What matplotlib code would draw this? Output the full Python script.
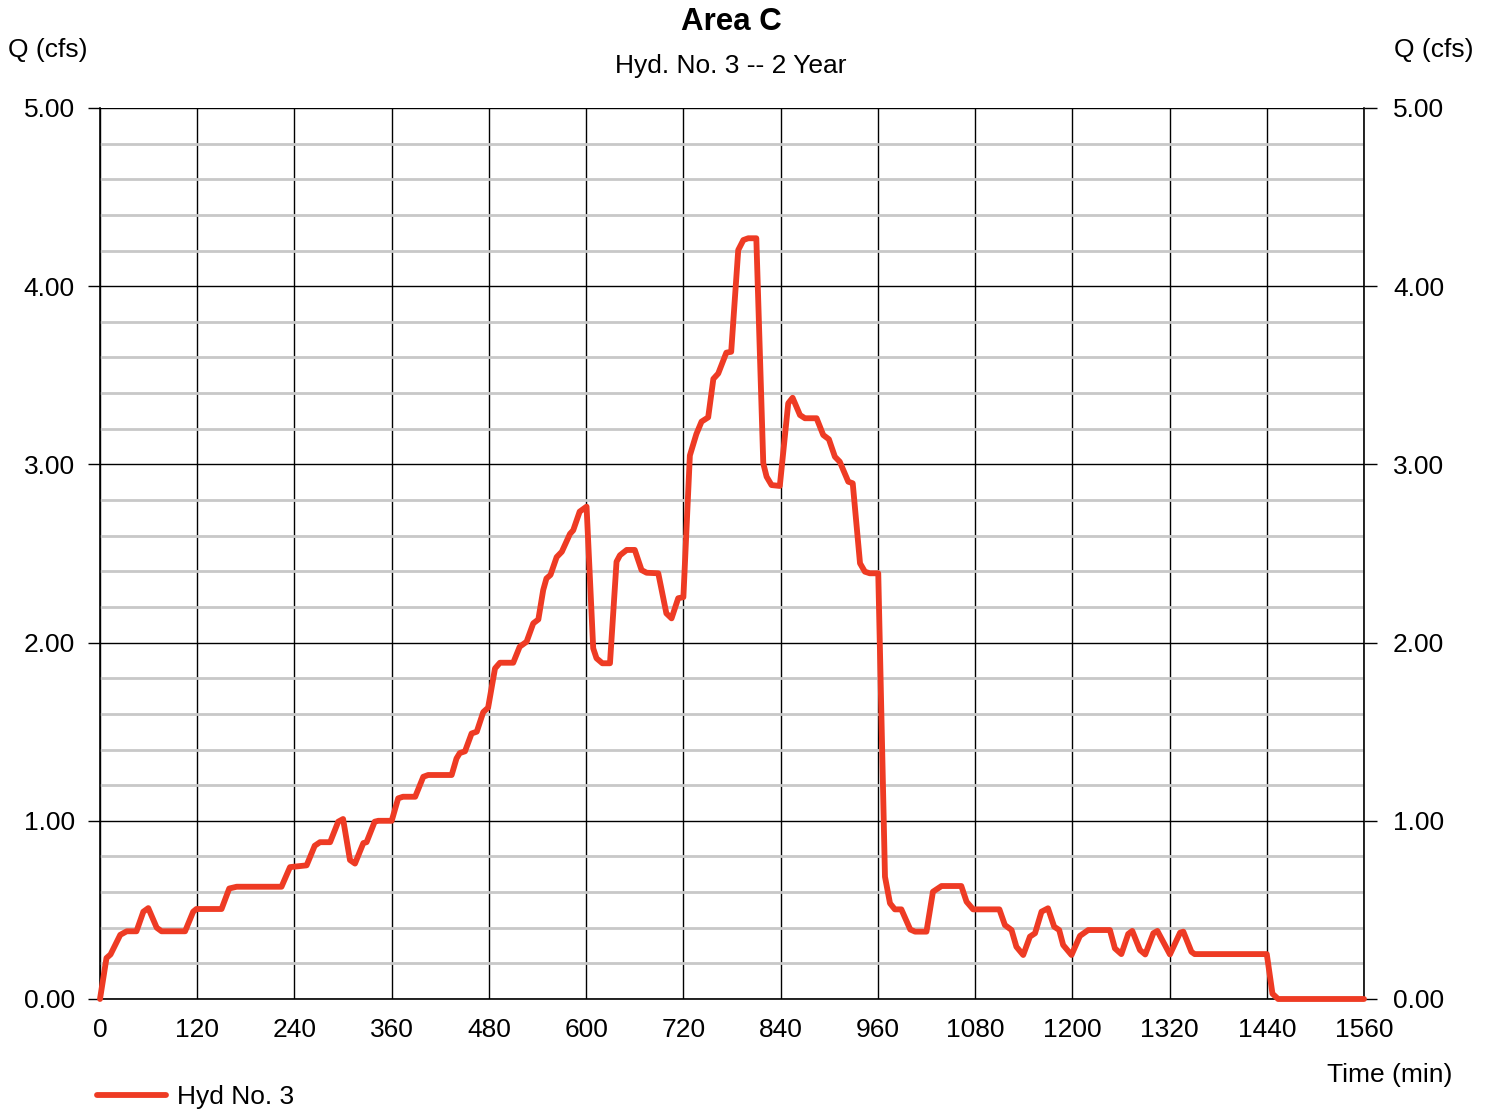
import matplotlib
matplotlib.use("Agg")
import matplotlib.pyplot as plt
from matplotlib.ticker import MultipleLocator
import matplotlib.transforms as mtransforms

plt.rcParams['font.family'] = ['Liberation Sans', 'DejaVu Sans']

# hydrograph: time (min), flow (cfs)
time_min = [0, 8, 13, 25, 33, 45, 53.5, 59.6, 70, 76, 105, 115, 119, 150, 159.5, 168.7,
            224, 234.5, 255, 265, 271.5, 284, 294, 300, 308.5, 314.7, 325, 329, 339, 343.5,
            360, 368, 374, 389, 399, 405, 434, 440, 444, 450.5, 458.6, 465, 473, 479,
            487.5, 493.6, 510, 518, 526.5, 534.7, 541, 547, 551, 556, 563.6, 570, 580,
            584, 592, 600.5, 608.7, 612.8, 620, 629.4, 637.5, 641.7, 650, 660, 668.4,
            674.6, 689, 699, 705.4, 713.6, 720, 728, 736, 742.4, 750.6, 757, 763, 773,
            779, 787.7, 794, 800, 810, 818.6, 822.7, 828.8, 839, 849.4, 854.8, 863.9,
            870, 884.4, 892.6, 899.6, 907, 913, 923.5, 929, 938, 944, 950, 960.5,
            968.8, 975, 981, 989, 1000, 1006, 1020, 1028, 1038.6, 1063, 1069.5, 1077.6,
            1110, 1116.8, 1125, 1131, 1139.4, 1147.7, 1154, 1162, 1170, 1177.6, 1183.8,
            1188.7, 1199, 1209.4, 1219.6, 1246.4, 1252.6, 1260.5, 1269, 1274, 1283.5,
            1290, 1300, 1305, 1320.5, 1333, 1337, 1347, 1351, 1440, 1447, 1454, 1560]
flow_cfs = [0.0, 0.23, 0.25, 0.36, 0.38, 0.38, 0.49, 0.51, 0.40, 0.38, 0.38, 0.49, 0.505,
            0.505, 0.62, 0.63, 0.63, 0.74, 0.75, 0.86, 0.88, 0.88, 0.995, 1.01, 0.78,
            0.76, 0.875, 0.88, 0.995, 1.0, 1.0, 1.126, 1.135, 1.135, 1.247, 1.257,
            1.257, 1.35, 1.38, 1.39, 1.49, 1.50, 1.61, 1.635, 1.855, 1.887, 1.887,
            1.977, 2.005, 2.108, 2.13, 2.295, 2.36, 2.38, 2.48, 2.51, 2.61, 2.63, 2.735,
            2.763, 1.968, 1.912, 1.884, 1.884, 2.454, 2.49, 2.52, 2.52, 2.407, 2.392,
            2.389, 2.164, 2.136, 2.249, 2.255, 3.05, 3.17, 3.24, 3.264, 3.48, 3.51,
            3.627, 3.632, 4.203, 4.259, 4.269, 4.269, 3.006, 2.931, 2.884, 2.879, 3.343,
            3.374, 3.277, 3.259, 3.259, 3.165, 3.141, 3.043, 3.015, 2.903, 2.894, 2.445,
            2.398, 2.389, 2.389, 0.686, 0.537, 0.503, 0.503, 0.39, 0.378, 0.378, 0.602,
            0.634, 0.634, 0.546, 0.503, 0.503, 0.415, 0.387, 0.293, 0.247, 0.35, 0.369,
            0.49, 0.509, 0.406, 0.387, 0.303, 0.247, 0.354, 0.387, 0.387, 0.284, 0.252,
            0.365, 0.382, 0.275, 0.25, 0.369, 0.382, 0.25, 0.372, 0.378, 0.265, 0.252,
            0.252, 0.03, 0.0, 0.0]

x_ticks = [0, 120, 240, 360, 480, 600, 720, 840, 960, 1080, 1200, 1320, 1440, 1560]
y_ticks = [0, 1, 2, 3, 4, 5]

fig = plt.figure(figsize=(14.91, 11.10), dpi=100)
ax = fig.add_axes([100 / 1491, 1 - 999 / 1110, 1264 / 1491, 891 / 1110])

ax.set_xlim(0, 1560)
ax.set_ylim(0, 5)
ax.set_xticks(x_ticks)
ax.set_yticks(y_ticks)
ax.set_yticklabels(['%.2f' % v for v in y_ticks])
ax.yaxis.set_minor_locator(MultipleLocator(0.2))

ax.grid(which='minor', axis='y', color='#c8c8c8', linewidth=2.0)
ax.grid(which='major', axis='y', color='black', linewidth=1.0)
ax.grid(which='major', axis='x', color='black', linewidth=1.0)
ax.set_axisbelow(True)

ax.tick_params(axis='y', which='major', direction='out', length=9, width=1,
               labelsize=19, pad=9, left=True, right=True, labelleft=True, labelright=True)
ax.tick_params(axis='y', which='minor', length=0)
ax.tick_params(axis='x', direction='out', length=0, labelsize=19, pad=14)

# right side labels sit a little further out than the left ones
shift = mtransforms.ScaledTranslation(4 / 100, 0, fig.dpi_scale_trans)
for t in ax.yaxis.get_major_ticks():
    t.label2.set_transform(t.label2.get_transform() + shift)

for side in ['left', 'right', 'bottom']:
    ax.spines[side].set_color('black')
    ax.spines[side].set_linewidth(1.2)
ax.spines['top'].set_visible(False)

line, = ax.plot(time_min, flow_cfs, color='#ee3b24', linewidth=4.2, solid_joinstyle='round',
                solid_capstyle='round', clip_on=False, zorder=5)

fig.text(731 / 1491, 1 - 22 / 1110, 'Area C', ha='center', va='center', fontsize=22.5,
         fontweight='bold')
fig.text(731 / 1491, 1 - 66 / 1110, 'Hyd. No. 3 -- 2 Year', ha='center', va='center',
         fontsize=19)
fig.text(8 / 1491, 1 - 50 / 1110, 'Q (cfs)', ha='left', va='center', fontsize=19)
fig.text(1474 / 1491, 1 - 50 / 1110, 'Q (cfs)', ha='right', va='center', fontsize=19)
fig.text(1452 / 1491, 1 - 1075 / 1110, 'Time (min)', ha='right', va='center', fontsize=19)

fig.legend([line], ['Hyd No. 3'], loc='center left',
           bbox_to_anchor=(97 / 1491, 1 - 1097 / 1110), frameon=False, fontsize=19,
           borderpad=0, borderaxespad=0, handlelength=2.6, handletextpad=0.42)

fig.savefig('out.png', dpi=100)
